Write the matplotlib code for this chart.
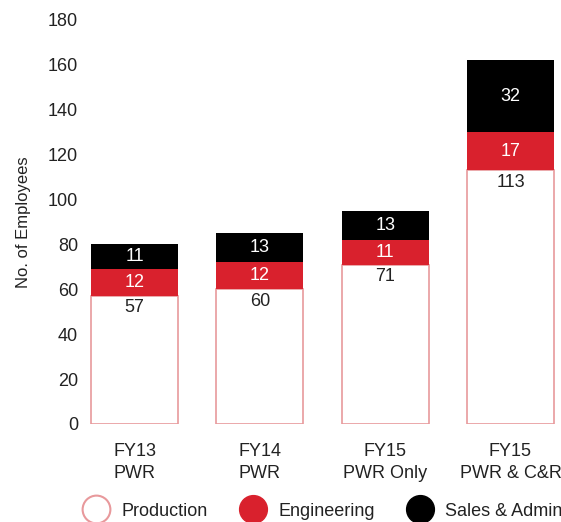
import matplotlib
matplotlib.use("Agg")
import matplotlib.pyplot as plt
from matplotlib.lines import Line2D

categories = ["FY13\nPWR", "FY14\nPWR", "FY15\nPWR Only", "FY15\nPWR & C&R"]
production = [57, 60, 71, 113]
engineering = [12, 12, 11, 17]
sales_admin = [11, 13, 13, 32]

red = "#d9212d"
pink = "#e8999c"
text_col = "#222222"

plt.rcParams["font.family"] = ["Liberation Sans", "DejaVu Sans"]

fig = plt.figure(figsize=(5.61, 5.22), dpi=100)
ax = fig.add_axes([85 / 561, 98 / 522, 476 / 561, 404 / 522])

x = list(range(len(categories)))
w = 0.694
bottom2 = [p + e for p, e in zip(production, engineering)]

ax.bar(x, production, w, color="white", edgecolor=pink, linewidth=1.2)
ax.bar(x, engineering, w, bottom=production, color=red, edgecolor=red, linewidth=0)
ax.bar(x, sales_admin, w, bottom=bottom2, color="black", linewidth=0)

for i in x:
    ax.annotate(str(production[i]), (i, production[i]), xytext=(0, -8.5),
                textcoords="offset points", ha="center", va="center",
                fontsize=13, color=text_col)
    ax.text(i, production[i] + engineering[i] / 2, str(engineering[i]),
            ha="center", va="center", fontsize=13, color="white")
    ax.text(i, bottom2[i] + sales_admin[i] / 2, str(sales_admin[i]),
            ha="center", va="center", fontsize=13, color="white")

ax.set_xlim(-0.395, 3.403)
ax.set_ylim(0, 180)
ax.set_yticks(range(0, 181, 20))
ax.set_xticks(x)
ax.set_xticklabels(categories, linespacing=1.35)
ax.tick_params(length=0, labelsize=13, colors=text_col)
ax.tick_params(axis="y", pad=5)
ax.tick_params(axis="x", pad=14)
for s in ax.spines.values():
    s.set_visible(False)
ax.set_ylabel("No. of Employees", fontsize=12, color=text_col, labelpad=12)

handles = [
    Line2D([], [], marker="o", linestyle="", markersize=20, markerfacecolor="white",
           markeredgecolor=pink, markeredgewidth=1.5),
    Line2D([], [], marker="o", linestyle="", markersize=20, markerfacecolor=red,
           markeredgecolor=red),
    Line2D([], [], marker="o", linestyle="", markersize=20, markerfacecolor="black",
           markeredgecolor="black"),
]
fig.legend(handles, ["Production", "Engineering", "Sales & Admin"], loc="center",
           bbox_to_anchor=(0.571, 0.021), ncol=3, frameon=False, fontsize=13,
           handletextpad=0.4, columnspacing=1.5, labelcolor=text_col)

fig.savefig("out.png", dpi=100)
